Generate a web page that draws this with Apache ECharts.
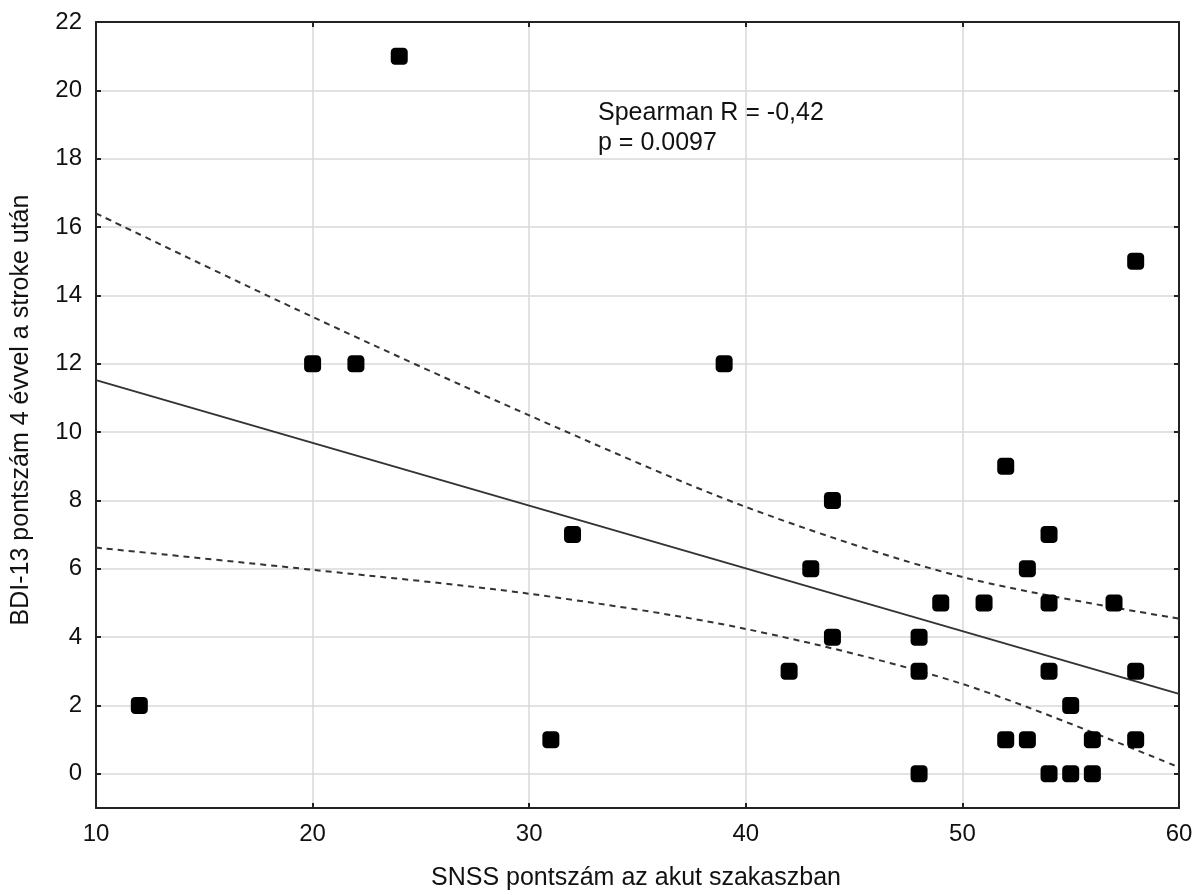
<!DOCTYPE html>
<html>
<head>
<meta charset="UTF-8">
<title>SNSS vs BDI-13</title>
<script src="https://cdn.jsdelivr.net/npm/echarts@6/dist/echarts.min.js"></script>
<style>
  html, body { margin: 0; padding: 0; background: #fff; }
  #main { width: 1199px; height: 895px; }
</style>
</head>
<body>
<div id="main"></div>
<script>
// SNSS score (acute phase) vs BDI-13 score 4 years after stroke
var snss = [12, 20, 22, 24, 31, 32, 39, 42, 43, 44, 44, 48, 48, 48, 49, 51, 52, 52,
            53, 53, 54, 54, 54, 54, 55, 55, 56, 56, 57, 58, 58, 58];
var bdi  = [2, 12, 12, 21, 1, 7, 12, 3, 6, 8, 4, 4, 3, 0, 5, 5, 9, 1,
            6, 1, 7, 5, 3, 0, 2, 0, 1, 0, 5, 15, 3, 1];

// regression line and 95% confidence limits
var fitX   = [10, 60];
var fitY   = [11.52, 2.34];
var bandX  = [10, 20, 30, 40, 50, 60];
var upperY = [16.4, 13.37, 10.49, 7.81, 5.76, 4.54];
var lowerY = [6.62, 5.97, 5.27, 4.24, 2.63, 0.19];

var yTicks = [0, 2, 4, 6, 8, 10, 12, 14, 16, 18, 20, 22];
var statText = 'Spearman R = -0,42\np = 0.0097';

function pairs(xs, ys) {
  var out = [];
  for (var i = 0; i < xs.length; i++) out.push([xs[i], ys[i]]);
  return out;
}

var font = '"Liberation Sans", Arial, sans-serif';
var gridColor = '#d9d9d9';
var lineColor = '#333';
var frame = { color: '#222', width: 2 };

var option = {
  backgroundColor: '#fff',
  animation: false,
  textStyle: { fontFamily: font, color: '#111' },
  grid: { left: 96, right: 20, top: 22, bottom: 87, containLabel: false },
  xAxis: [{
    type: 'value', min: 10, max: 60, interval: 10,
    axisLine: { show: true, onZero: false, lineStyle: frame },
    axisTick: { show: true, inside: true, length: 5, lineStyle: frame },
    axisLabel: { fontSize: 24, color: '#111', margin: 14, fontFamily: font },
    splitLine: { show: true, lineStyle: { color: gridColor, width: 1.5 } }
  }, {
    type: 'value', position: 'top', min: 10, max: 60, interval: 10,
    axisLine: { show: true, onZero: false, lineStyle: frame },
    axisTick: { show: true, inside: true, length: 5, lineStyle: frame },
    axisLabel: { show: false },
    splitLine: { show: false }
  }],
  yAxis: [{
    type: 'value', min: -1, max: 22,
    axisLine: { show: true, onZero: false, lineStyle: frame },
    axisTick: { show: true, inside: true, length: 5, customValues: yTicks, lineStyle: frame },
    axisLabel: { fontSize: 24, color: '#111', margin: 14, customValues: yTicks, fontFamily: font },
    splitLine: { show: true, lineStyle: { color: gridColor, width: 1.5 } }
  }, {
    type: 'value', position: 'right', min: -1, max: 22,
    axisLine: { show: true, onZero: false, lineStyle: frame },
    axisTick: { show: true, inside: true, length: 5, customValues: yTicks, lineStyle: frame },
    axisLabel: { show: false },
    splitLine: { show: false }
  }],
  graphic: [{
    type: 'text', left: 598, top: 98,
    style: { text: statText, font: '25px ' + font, fill: '#111', lineHeight: 30 }
  }, {
    type: 'text', x: 636, y: 878,
    style: { text: 'SNSS pontszám az akut szakaszban', font: '25px ' + font, fill: '#111',
             align: 'center', verticalAlign: 'middle' }
  }, {
    type: 'text', x: 21, y: 410, rotation: Math.PI / 2,
    style: { text: 'BDI-13 pontszám 4 évvel a stroke után', font: '25px ' + font, fill: '#111',
             align: 'center', verticalAlign: 'middle' }
  }],
  series: [{
    type: 'line', data: pairs(fitX, fitY), showSymbol: false, silent: true,
    lineStyle: { color: lineColor, width: 2 }, z: 2
  }, {
    type: 'line', data: pairs(bandX, upperY), showSymbol: false, silent: true, smooth: 0.3,
    lineStyle: { color: lineColor, width: 2, type: [6, 5] }, z: 2
  }, {
    type: 'line', data: pairs(bandX, lowerY), showSymbol: false, silent: true, smooth: 0.3,
    lineStyle: { color: lineColor, width: 2, type: [6, 5] }, z: 2
  }, {
    type: 'scatter', data: pairs(snss, bdi), symbol: 'roundRect', symbolSize: 17,
    itemStyle: { color: '#000', opacity: 1 }, z: 5
  }]
};

var myChart = echarts.init(document.getElementById('main'));
myChart.setOption(option);
</script>
</body>
</html>
